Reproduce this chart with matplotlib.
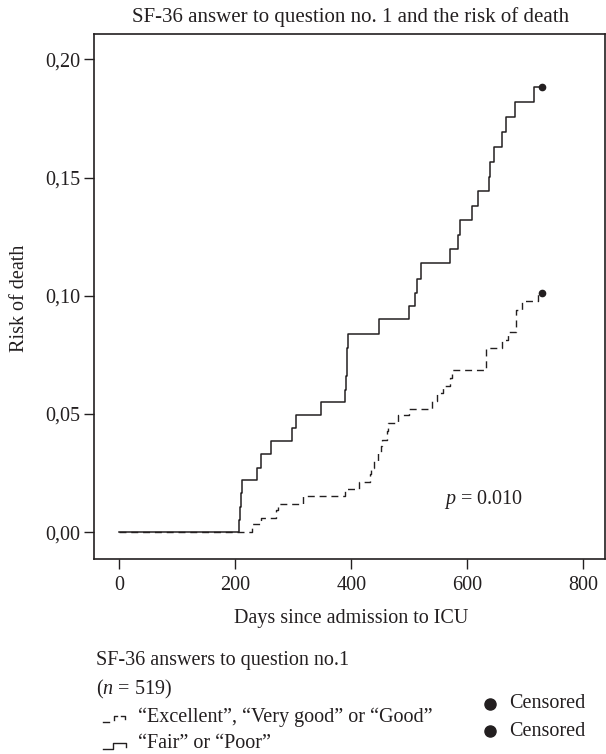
import matplotlib.pyplot as plt
from matplotlib.lines import Line2D

plt.rcParams['font.family'] = ['Liberation Serif', 'DejaVu Serif']
plt.rcParams['mathtext.fontset'] = 'custom'
plt.rcParams['mathtext.rm'] = 'Liberation Serif'
plt.rcParams['mathtext.it'] = 'Liberation Serif:italic'

# "Fair" or "Poor": day of each death and cumulative risk after it
fair_days = [0, 206, 208, 210, 212, 237, 244, 262, 297, 305, 347, 390, 391, 392, 393,
             395, 448, 500, 510, 514, 520, 571, 584, 588, 608, 618, 637, 639, 647, 660,
             667, 682, 715, 730]
fair_risk = [0.0, 0.0051, 0.0107, 0.0164, 0.0220, 0.0272, 0.0329, 0.0385, 0.0439, 0.0498,
             0.0552, 0.0600, 0.0660, 0.0720, 0.0780, 0.0840, 0.0900, 0.0956, 0.1013, 0.1073,
             0.1137, 0.1199, 0.1259, 0.1319, 0.1379, 0.1443, 0.1504, 0.1565, 0.1629, 0.1692,
             0.1756, 0.1821, 0.1885, 0.1885]

# "Excellent", "Very good" or "Good"
good_days = [0, 229, 244, 270, 273, 316, 389, 413, 432, 434, 440, 446, 451, 453, 461,
             463, 481, 500, 539, 548, 558, 571, 574, 633, 660, 670, 684, 695, 722, 730]
good_risk = [0.0, 0.0033, 0.0060, 0.0093, 0.0121, 0.0152, 0.0184, 0.0212, 0.0245, 0.0272,
             0.0300, 0.0336, 0.0365, 0.0392, 0.0430, 0.0463, 0.0494, 0.0522, 0.0554, 0.0587,
             0.0620, 0.0653, 0.0685, 0.0780, 0.0815, 0.0846, 0.0942, 0.0977, 0.1013, 0.1013]

censor_day = 730
xticks = [0, 200, 400, 600, 800]
yticks = [0.00, 0.05, 0.10, 0.15, 0.20]
ytick_labels = ['0,00', '0,05', '0,10', '0,15', '0,20']

W, H = 606, 754
fig = plt.figure(figsize=(W / 100, H / 100), dpi=100)
ax = fig.add_axes([94 / W, 1 - 559 / H, (605 - 94) / W, (559 - 34) / H])

ink = '#231f20'
FS = 14.5
ax.step(good_days, good_risk, where='post', color=ink, lw=1.0, linestyle=(0, (5, 3.5)))
ax.step(fair_days, fair_risk, where='post', color=ink, lw=1.1)
ax.plot([censor_day], [good_risk[-1]], 'o', color=ink, ms=4.5)
ax.plot([censor_day], [fair_risk[-1]], 'o', color=ink, ms=4.5)

ax.set_xlim(-44, 838)
ax.set_ylim(-0.0113, 0.2107)
ax.set_xticks(xticks)
ax.set_yticks(yticks)
ax.set_yticklabels(ytick_labels)
ax.tick_params(labelsize=FS, length=7, width=1, color=ink, labelcolor=ink)
ax.tick_params(axis='x', pad=5)
ax.tick_params(axis='y', pad=3)
for s in ax.spines.values():
    s.set_linewidth(1.2)
    s.set_color(ink)

ax.text(628, 0.0138, r'$p$ = 0.010', fontsize=FS, ha='center', va='center', color=ink)

fig.text(351 / W, 1 - 17 / H, 'SF-36 answer to question no. 1 and the risk of death',
         ha='center', va='center', fontsize=15, color=ink)
fig.text(351 / W, 1 - 619 / H, 'Days since admission to ICU',
         ha='center', va='center', fontsize=FS, color=ink)
fig.text(20 / W, 1 - 298 / H, 'Risk of death', rotation=90,
         ha='center', va='center', fontsize=FS, color=ink)

# legend block below the axes
def ftxt(x, y, s):
    fig.text(x / W, 1 - y / H, s, va='center', ha='left', fontsize=FS, color=ink)

rows = [661, 689, 717, 744]
cens_rows = [704, 731]
ftxt(96, rows[0], 'SF-36 answers to question no.1')
ftxt(96, rows[1], '($n$ = 519)')
ftxt(138, rows[2], '\u201cExcellent\u201d, \u201cVery good\u201d or \u201cGood\u201d')
ftxt(138, rows[3], '\u201cFair\u201d or \u201cPoor\u201d')
for yy in cens_rows:
    ftxt(509, yy, 'Censored')
    fig.add_artist(Line2D([490 / W], [1 - yy / H], marker='o', color=ink, ms=8))

def seg(pts):
    fig.add_artist(Line2D([p[0] / W for p in pts], [1 - p[1] / H for p in pts],
                          color=ink, lw=1.0))

y = rows[2] + 2
seg([(103, y + 3), (109, y + 3)])
seg([(114, y + 1), (114, y - 3), (117, y - 3)])
seg([(121, y - 3), (125, y - 3), (125, y)])
y = rows[3] + 2
seg([(103, y + 3), (113, y + 3), (113, y - 3), (126, y - 3), (126, y + 1)])

fig.savefig('out.png', dpi=100)
